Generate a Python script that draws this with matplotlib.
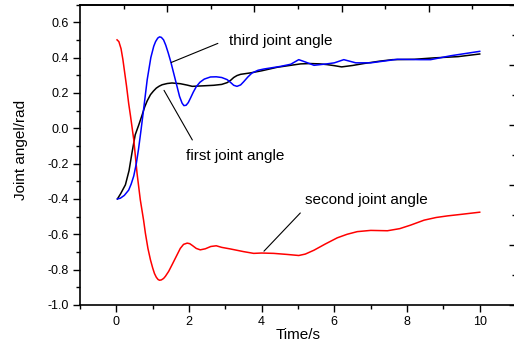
import numpy as np
import matplotlib.pyplot as plt

plt.rcParams['font.family'] = ['Liberation Sans', 'DejaVu Sans']

# first joint angle (black)
t_first = [0.03, 0.12, 0.25, 0.35, 0.43, 0.52, 0.62, 0.71, 0.78, 0.85, 0.94, 1.02, 1.1, 1.18, 1.26,
           1.4, 1.53, 1.76, 1.95, 2.09, 2.4, 2.68, 2.9, 3.05, 3.15, 3.23, 3.32, 3.42, 3.69, 4.0,
           4.43, 4.8, 5.07, 5.34, 5.6, 5.8, 6.0, 6.2, 6.5, 6.81, 7.23, 7.6, 8.2, 8.74, 9.4, 10.0]
a_first = [-0.40, -0.37, -0.32, -0.24, -0.14, -0.037, 0.02, 0.075, 0.12, 0.155, 0.19, 0.21, 0.227,
           0.238, 0.246, 0.253, 0.256, 0.252, 0.244, 0.237, 0.24, 0.243, 0.248, 0.258, 0.272,
           0.287, 0.298, 0.305, 0.313, 0.325, 0.345, 0.356, 0.364, 0.366, 0.364, 0.36, 0.354,
           0.347, 0.355, 0.366, 0.379, 0.388, 0.39, 0.398, 0.405, 0.42]

# second joint angle (red)
t_second = [0.02, 0.07, 0.13, 0.18, 0.22, 0.28, 0.34, 0.39, 0.43, 0.48, 0.57, 0.66, 0.75, 0.8,
            0.87, 0.94, 1.0, 1.05, 1.1, 1.15, 1.19, 1.24, 1.3, 1.35, 1.44, 1.53, 1.65, 1.76, 1.85,
            1.95, 2.02, 2.09, 2.2, 2.31, 2.45, 2.6, 2.75, 2.9, 3.14, 3.5, 3.78, 4.0, 4.33, 4.7,
            5.02, 5.2, 5.44, 5.75, 6.08, 6.35, 6.63, 7.0, 7.46, 7.8, 8.1, 8.47, 8.8, 9.11, 9.5, 10.0]
a_second = [0.50, 0.49, 0.45, 0.39, 0.33, 0.24, 0.14, 0.07, 0.01, -0.065, -0.254, -0.405, -0.52,
            -0.594, -0.68, -0.745, -0.79, -0.822, -0.843, -0.856, -0.86, -0.858, -0.85, -0.838,
            -0.81, -0.774, -0.725, -0.68, -0.657, -0.65, -0.653, -0.663, -0.68, -0.688, -0.682,
            -0.669, -0.665, -0.674, -0.683, -0.698, -0.708, -0.706, -0.708, -0.714, -0.72, -0.712,
            -0.69, -0.655, -0.62, -0.6, -0.585, -0.578, -0.58, -0.568, -0.548, -0.52, -0.505,
            -0.496, -0.487, -0.475]

# third joint angle (blue)
t_third = [0.03, 0.11, 0.22, 0.34, 0.41, 0.48, 0.55, 0.61, 0.68, 0.75, 0.85, 0.95, 1.03, 1.08, 1.14,
           1.19, 1.24, 1.3, 1.36, 1.43, 1.5, 1.58, 1.67, 1.74, 1.81, 1.86, 1.92, 1.98, 2.04, 2.12,
           2.2, 2.3, 2.42, 2.59, 2.75, 2.9, 3.05, 3.15, 3.23, 3.32, 3.42, 3.5, 3.62, 3.73, 3.9, 4.06,
           4.52, 4.8, 5.02, 5.2, 5.44, 5.79, 6.0, 6.26, 6.59, 7.0, 7.73, 8.37, 8.65, 9.2, 10.0]
a_third = [-0.40, -0.396, -0.38, -0.35, -0.315, -0.27, -0.2, -0.12, -0.01, 0.105, 0.275, 0.40, 0.464,
           0.49, 0.51, 0.517, 0.514, 0.5, 0.47, 0.425, 0.375, 0.31, 0.237, 0.18, 0.142, 0.128,
           0.13, 0.145, 0.17, 0.205, 0.235, 0.26, 0.278, 0.29, 0.291, 0.287, 0.275, 0.258, 0.243,
           0.237, 0.245, 0.262, 0.29, 0.312, 0.328, 0.335, 0.35, 0.362, 0.388, 0.375, 0.356, 0.364,
           0.37, 0.388, 0.37, 0.37, 0.39, 0.388, 0.388, 0.41, 0.435]

y_major = [-1.0, -0.8, -0.6, -0.4, -0.2, 0.0, 0.2, 0.4, 0.6]

fig = plt.figure(figsize=(5.14, 3.44), dpi=100)
ax = fig.add_axes([0.1556, 0.1134, 0.8484, 0.8735])

ax.plot(t_first, a_first, color='black', lw=1.1)
ax.plot(t_second, a_second, color='red', lw=1.1)
ax.plot(t_third, a_third, color='blue', lw=1.1)

ax.set_xlim(-1, 11)
ax.set_ylim(-1.0, 0.7)
ax.set_xticks(np.arange(0, 11, 2))
ax.set_xticks(np.arange(-1, 12, 2), minor=True)
ax.set_yticks(y_major)
ax.set_yticks(np.arange(-0.9, 0.71, 0.2), minor=True)
ax.set_yticklabels([f'{v:.1f}' for v in y_major])
ax.tick_params(direction='out', length=5, width=1, labelsize=9, pad=3)
ax.tick_params(which='minor', direction='out', length=3, width=1)
for s in ax.spines.values():
    s.set_linewidth(1.2)

ax.set_xlabel('Time/s', fontsize=11, labelpad=0)
ax.set_ylabel('Joint angel/rad', fontsize=11)
ax.yaxis.set_label_coords(-0.119, 0.516)

# mirrored top/right axes with their own 0..1 scale (as in the original)
top = ax.secondary_xaxis('top', functions=(lambda x: (x + 1) / 12, lambda f: f * 12 - 1))
top.set_xticks(np.arange(0.2, 1.01, 0.2))
top.set_xticks(np.arange(0.1, 1.0, 0.2), minor=True)
top.tick_params(direction='in', length=5, width=1, labeltop=False)
top.tick_params(which='minor', direction='in', length=3, width=1)
top.spines['top'].set_linewidth(1.2)

right = ax.secondary_yaxis('right', functions=(lambda v: (v + 1) / 1.7, lambda f: f * 1.7 - 1))
right.set_yticks(np.arange(0.0, 1.01, 0.2))
right.set_yticks(np.arange(0.1, 1.0, 0.2), minor=True)
right.tick_params(direction='in', length=5, width=1, labelright=False)
right.tick_params(which='minor', direction='in', length=3, width=1)

ax.annotate('', xy=(1.44, 0.366), xytext=(2.865, 0.486),
            arrowprops=dict(arrowstyle='-', color='black', lw=0.8))
ax.text(3.11, 0.492, 'third joint angle', fontsize=11, ha='left', va='center')
ax.annotate('', xy=(1.275, 0.228), xytext=(2.13, -0.08),
            arrowprops=dict(arrowstyle='-', color='black', lw=0.8))
ax.text(1.92, -0.156, 'first joint angle', fontsize=11, ha='left', va='center')
ax.annotate('', xy=(4.01, -0.707), xytext=(5.116, -0.468),
            arrowprops=dict(arrowstyle='-', color='black', lw=0.8))
ax.text(5.18, -0.405, 'second joint angle', fontsize=11, ha='left', va='center')

fig.savefig('out.png', dpi=100)
